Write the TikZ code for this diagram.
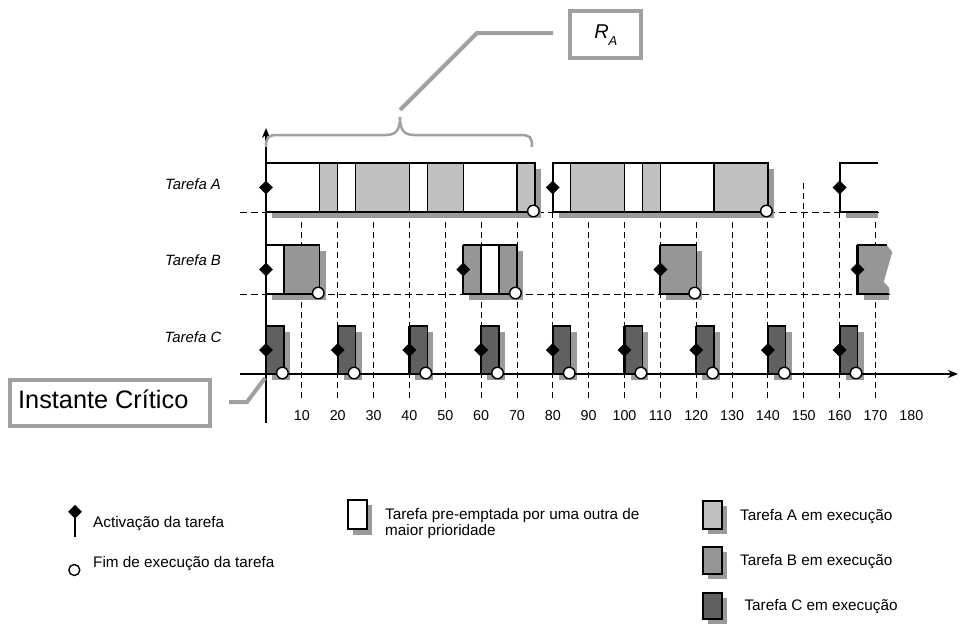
\documentclass[tikz,border=0pt]{standalone}
\usepackage{fontspec}
\setmainfont{Liberation Sans}
\usetikzlibrary{shapes.geometric,arrows.meta}
\definecolor{colA}{HTML}{C0C0C0}
\definecolor{colB}{HTML}{969696}
\definecolor{colC}{HTML}{606060}
\definecolor{shad}{HTML}{9A9A9A}
\definecolor{callg}{HTML}{A0A0A0}
\tikzset{
  boxline/.style={draw=black,line width=1.3pt},
  actline/.style={draw=black,line width=2.2pt},
  diam/.style={diamond,fill=black,inner sep=0pt,minimum width=14pt,minimum height=14pt},
  endc/.style={circle,draw=black,fill=white,line width=1.4pt,inner sep=0pt,minimum size=11.5pt},
  gridline/.style={draw=black,dash pattern=on 6pt off 4pt,line width=0.9pt},
  rowbase/.style={draw=black,dash pattern=on 7pt off 4pt,line width=0.9pt},
  callbox/.style={draw=callg,line width=4pt,fill=white,inner sep=0pt},
  callline/.style={draw=callg,line width=4pt},
  bracestyle/.style={draw=callg,line width=2.5pt},
  legtext/.style={font=\fontsize{15.3}{16.3}\selectfont,anchor=base west,inner sep=0pt},
  rowlab/.style={font=\fontsize{14.9}{17}\selectfont\itshape,anchor=base,inner sep=0pt},
  numlab/.style={font=\fontsize{14.3}{16}\selectfont,anchor=base,inner sep=0pt},
  legbox/.style={draw=black,line width=1.8pt},
  axisline/.style={draw=black,line width=1.5pt,-{Stealth[length=10pt,width=8pt]}},
}
\begin{document}
\begin{tikzpicture}[x=1pt,y=-1pt]
\useasboundingbox (0,0) rectangle (960,624);
\fill[white] (0,0) rectangle (960,624);

\begin{scope}[shift={(266,0)},x=3.585pt]
  % grid
  \foreach \t in {10,20,...,170} \draw[gridline] (\t,212) -- (\t,400);
  \draw[gridline] (150,183) -- (150,212);
  \draw[rowbase] (-7.25,212) -- (170.8,212);
  \draw[rowbase] (-7.25,294) -- (173.9,294);
  % shadows
  \foreach \a/\b/\tp/\bt in {0/75/163/212,80/140/163/212,0/15/245/294,55/70/245/294,110/120/245/294}
    \fill[shad,xshift=6pt,yshift=-6pt] (\a,\tp) rectangle (\b,\bt);
  \foreach \s in {0,20,...,160}
    \fill[shad,xshift=6pt,yshift=-6pt] (\s,326) rectangle (\s+5,374);
  \fill[shad] ([xshift=6pt]160,212) rectangle (170.8,218);
  \fill[shad] ([xshift=6pt]165,294) rectangle (173.9,300);
  % Tarefa A, instance 1
  \fill[white] (0,163) rectangle (75,212);
  \foreach \a/\b in {15/20,25/40,45/55,70/75} \fill[colA] (\a,163) rectangle (\b,212);
  \draw[boxline] (0,163) rectangle (75,212);
  \foreach \d in {15,20,25,40,45,55,70} \draw[boxline] (\d,163) -- (\d,212);
  % Tarefa A, instance 2
  \fill[white] (80,163) rectangle (140,212);
  \foreach \a/\b in {85/100,105/110,125/140} \fill[colA] (\a,163) rectangle (\b,212);
  \draw[boxline] (80,163) rectangle (140,212);
  \foreach \d in {85,100,105,110,125} \draw[boxline] (\d,163) -- (\d,212);
  % Tarefa A, instance 3 (open)
  \fill[white] (160,163) rectangle (170.8,212);
  \draw[boxline] (170.8,163) -- (160,163) -- (160,212) -- (170.8,212);
  % Tarefa B
  \fill[white] (0,245) rectangle (5,294);
  \fill[colB] (5,245) rectangle (15,294);
  \draw[boxline] (0,245) rectangle (15,294);
  \draw[boxline] (5,245) -- (5,294);
  \fill[colB] (55,245) rectangle (60,294);
  \fill[white] (60,245) rectangle (65,294);
  \fill[colB] (65,245) rectangle (70,294);
  \draw[boxline] (55,245) rectangle (70,294);
  \draw[boxline] (60,245) -- (60,294);
  \draw[boxline] (65,245) -- (65,294);
  \fill[colB] (110,245) rectangle (120,294);
  \draw[boxline] (110,245) rectangle (120,294);
  \fill[colB] (165,245) -- (173.1,245) -- (174.7,252) -- (172.3,282) -- (173.9,288) -- (173.9,294) -- (165,294) -- cycle;
  \draw[boxline] (173.1,245) -- (165,245) -- (165,294) -- (173.9,294);
  % Tarefa C
  \foreach \s in {0,20,...,160} {
    \fill[colC] (\s,326) rectangle (\s+5,374);
    \draw[boxline] (\s,326) rectangle (\s+5,374);
  }
  % axes
  \draw[axisline] (-7.25,374) -- (193,374);
  \draw[axisline] (0,423) -- (0,128);
  % activations
  \foreach \t/\tp/\bt/\m/\n in {0/163/212/187.5/a0,80/163/212/187.5/a1,160/163/212/187.5/a2,
      0/245/294/269.5/b0,55/245/294/269.5/b1,110/245/294/269.5/b2,165/245/294/269.5/b3} {
    \draw[actline] (\t,\tp) -- (\t,\bt);
    \node[diam] (act\n) at (\t,\m) {};
  }
  \foreach \s [count=\i] in {0,20,...,160} {
    \draw[actline] (\s,326) -- (\s,374);
    \node[diam] (actc\i) at (\s,350) {};
  }
  % end of execution
  \foreach \t/\y/\n in {75/212/a1,140/212/a2,15/294/b1,70/294/b2,120/294/b3}
    \node[endc] (end\n) at ([xshift=-1.5pt,yshift=1pt]\t,\y) {};
  \foreach \s [count=\i] in {5,25,...,165}
    \node[endc] (endc\i) at ([xshift=-1.5pt,yshift=1pt]\s,374) {};
  % axis numbers
  \foreach \t in {10,20,...,180} \node[numlab] (num\t) at (\t,420.5) {\t};
\end{scope}

% row labels
\node[rowlab] (labA) at (193,189) {Tarefa A};
\node[rowlab] (labB) at (193,265.7) {Tarefa B};
\node[rowlab] (labC) at (193,342.7) {Tarefa C};

% brace and R_A callout
\draw[bracestyle] (266,147) .. controls (266,137) and (268,135) .. (278,135) -- (386,135)
  .. controls (396,135) and (400,130) .. (400,117)
  .. controls (400,130) and (404,135) .. (414,135) -- (520,135)
  .. controls (530,135) and (532,137) .. (532,147);
\node[callbox,minimum width=71pt,minimum height=46.7pt] (ra) at (605.8,34.7)
  {{\fontsize{20}{21}\selectfont\itshape R}\raisebox{-7pt}{\fontsize{13}{14}\selectfont\itshape A}};
\coordinate (raK) at (477,33);
\coordinate (braceTip) at (400,110);
\draw[callline] ([xshift=-15.3pt,yshift=1.7pt]ra.west) -- (raK) -- (braceTip);

% Instante Critico callout
\node[callbox,minimum width=200pt,minimum height=46pt] (icbox) at (110,403) {};
\node[font=\fontsize{25.3}{27}\selectfont,anchor=base west,inner sep=0pt] (ictext) at (18,408) {Instante Crítico};
\coordinate (icTip) at (265,378);
\draw[callline] ([xshift=17pt,yshift=1pt]icbox.east) -- ++(18,0) -- (icTip);

% legend
\draw[actline] (75,512) -- (75,536.7);
\node[diam] (legact) at (75,511.7) {};
\node[legtext] (legacttext) at (93,527.3) {Activação da tarefa};
\node[endc,minimum size=11pt] (legend) at (74.3,570) {};
\node[legtext] (legendtext) at (93,567.5) {Fim de execução da tarefa};

\fill[shad] (353,505) rectangle (371.7,535);
\draw[legbox,fill=white] (348,500) rectangle (366.7,529);
\node[legtext,align=left,anchor=north west] (legpre) at (385,508) {Tarefa pre-emptada por uma outra de\\maior prioridade};

\fill[shad] (708.3,506) rectangle (727.3,534.3);
\draw[legbox,fill=colA] (703.3,501) rectangle (722.3,529.3);
\node[legtext] (legAt) at (740,520) {Tarefa A em execução};
\fill[shad] (708.3,551.7) rectangle (727.3,579);
\draw[legbox,fill=colB] (703.3,546.7) rectangle (722.3,574);
\node[legtext] (legBt) at (740,565) {Tarefa B em execução};
\fill[shad] (708.3,597.7) rectangle (727.3,624);
\draw[legbox,fill=colC] (703.3,592.7) rectangle (722.3,619.3);
\node[legtext] (legCt) at (744.3,610) {Tarefa C em execução};
\end{tikzpicture}
\end{document}
